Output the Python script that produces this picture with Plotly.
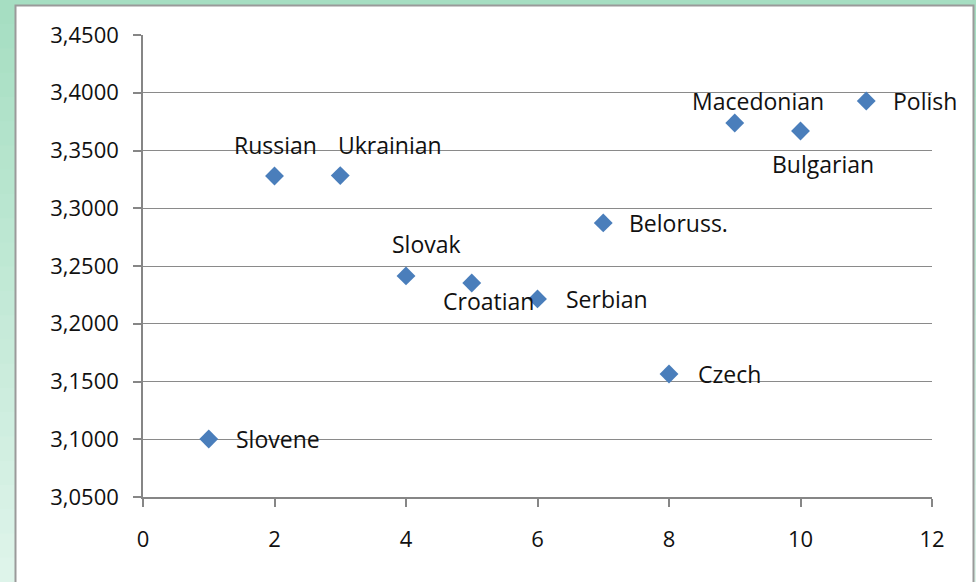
import plotly.graph_objects as go

# ---- data ----
languages = ["Slovene", "Russian", "Ukrainian", "Slovak", "Croatian", "Serbian",
             "Beloruss.", "Czech", "Macedonian", "Bulgarian", "Polish"]
x_vals = [1, 2, 3, 4, 5, 6, 7, 8, 9, 10, 11]
y_vals = [3.1002, 3.3279, 3.3283, 3.2414, 3.2353, 3.2215,
          3.2873, 3.1565, 3.3738, 3.3669, 3.3929]
y_ticks = [3.05, 3.10, 3.15, 3.20, 3.25, 3.30, 3.35, 3.40, 3.45]
x_ticks = [0, 2, 4, 6, 8, 10, 12]

# label placement (style): (xanchor, xshift, yshift)
label_pos = {
    "Slovene": ("left", 25, 0),
    "Russian": ("center", 1, 31),
    "Ukrainian": ("left", -4, 31),
    "Slovak": ("center", 20, 32),
    "Croatian": ("center", 17, -18),
    "Serbian": ("left", 26, 0),
    "Beloruss.": ("left", 24, 0),
    "Czech": ("left", 27, 0),
    "Macedonian": ("center", 23, 22),
    "Bulgarian": ("center", 22, -33),
    "Polish": ("left", 25, 0),
}

W, H = 976, 582
ML, MR, MT, MB = 143, 44, 35, 85
PW, PH = W - ML - MR, H - MT - MB


def px(xp):
    return (xp - ML) / PW


def py(yp):
    return (H - MB - yp) / PH


FONT = "Open Sans"
TXT = "#111111"

fig = go.Figure()
fig.add_trace(go.Scatter(
    x=x_vals, y=y_vals, mode="markers",
    marker=dict(symbol="diamond", size=14.5, color="#4a7ebb",
                line=dict(width=0)),
    hoverinfo="text", text=languages, showlegend=False,
))

annotations = []
for lang, xv, yv in zip(languages, x_vals, y_vals):
    anc, xs, ys = label_pos[lang]
    annotations.append(dict(
        x=xv, y=yv, xref="x", yref="y", text=lang, showarrow=False,
        xanchor=anc, yanchor="middle", xshift=xs, yshift=ys,
        font=dict(family=FONT, size=23, color=TXT),
    ))

# background: green gradient strips + white chart box
shapes = []
top_c = (166, 222, 194)
bot_c = (222, 244, 234)
n = 24
for i in range(n):
    t = i / (n - 1)
    c = tuple(int(round(top_c[k] + (bot_c[k] - top_c[k]) * t)) for k in range(3))
    y0p = H * i / n
    y1p = H * (i + 1) / n + 1
    shapes.append(dict(type="rect", xref="paper", yref="paper", layer="below",
                       x0=px(-2), x1=px(W + 2), y0=py(y1p), y1=py(y0p),
                       fillcolor="rgb(%d,%d,%d)" % c, line=dict(width=0)))
shapes.append(dict(type="rect", xref="paper", yref="paper", layer="below",
                   x0=px(15.5), x1=px(973.5), y0=py(H + 10), y1=py(5.5),
                   fillcolor="#ffffff", line=dict(color="#9a9a9a", width=2)))

fig.update_layout(
    width=W, height=H,
    margin=dict(l=ML, r=MR, t=MT, b=MB, pad=0),
    paper_bgcolor="#ffffff", plot_bgcolor="rgba(0,0,0,0)",
    separators=", ",
    font=dict(family=FONT, size=22, color=TXT),
    shapes=shapes, annotations=annotations,
    xaxis=dict(range=[0, 12], tickvals=x_ticks, showgrid=False, zeroline=False,
               showline=True, linecolor="#868686", linewidth=1.5,
               ticks="outside", ticklen=8, tickcolor="#868686", tickwidth=1.5,
               ticklabelstandoff=14,
               tickfont=dict(family=FONT, size=22, color=TXT)),
    yaxis=dict(range=[3.05, 3.45], tickvals=y_ticks, tickformat=".4f",
               showgrid=True, gridcolor="#8a8a8a", gridwidth=1.3, zeroline=False,
               showline=True, linecolor="#868686", linewidth=1.5,
               ticks="outside", ticklen=8, tickcolor="#868686", tickwidth=1.5,
               ticklabelstandoff=10,
               tickfont=dict(family=FONT, size=22, color=TXT)),
)

fig.write_html("out.html")
